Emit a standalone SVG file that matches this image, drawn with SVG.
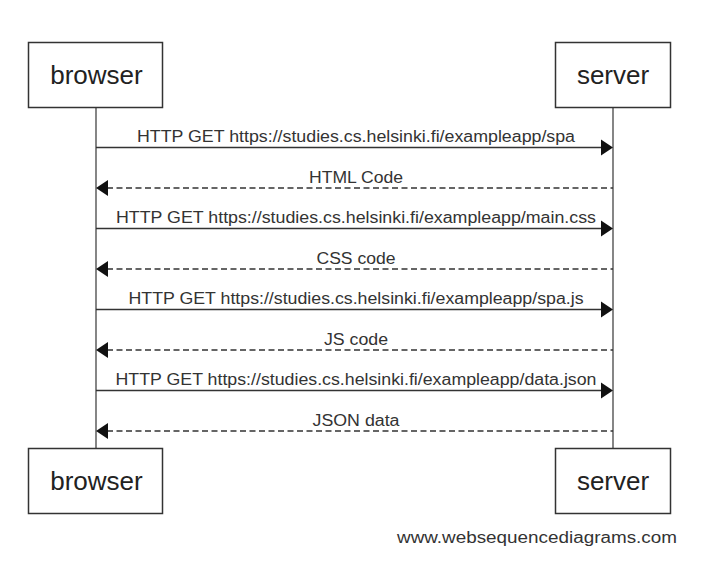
<svg xmlns="http://www.w3.org/2000/svg" width="708" height="586" viewBox="0 0 708 586">
<style>
.box{fill:#fff;stroke:#333;stroke-width:1.5}
.actor{font-family:"Liberation Sans",Arial,sans-serif;font-size:26px;fill:#222;text-anchor:middle}
.life{stroke:#444;stroke-width:1.3;fill:none}
.msg{stroke:#333;stroke-width:1.3;fill:none}
.dash{stroke:#333;stroke-width:1.3;fill:none;stroke-dasharray:6 3.5}
.head{fill:#111}
.lbl{font-family:"Liberation Sans",Arial,sans-serif;font-size:16px;fill:#333;text-anchor:middle}
.foot{font-family:"Liberation Sans",Arial,sans-serif;font-size:16px;fill:#333}
</style>
<rect width="708" height="586" fill="#fff"/>
<g id="connectors">
<line class="life" x1="96" y1="107" x2="96" y2="448"/>
<line class="life" x1="613" y1="107" x2="613" y2="448"/>
<g id="m1"><line class="msg" x1="96" y1="147.5" x2="602" y2="147.5"/><polygon class="head" points="601,139.5 613,147.5 601,155.5"/><text class="lbl" x="356" y="142" textLength="438" lengthAdjust="spacingAndGlyphs">HTTP GET https://studies.cs.helsinki.fi/exampleapp/spa</text></g>
<g id="m2"><line class="dash" x1="107" y1="188" x2="613" y2="188"/><polygon class="head" points="108,180 96,188 108,196"/><text class="lbl" x="356" y="182.5" textLength="94" lengthAdjust="spacingAndGlyphs">HTML Code</text></g>
<g id="m3"><line class="msg" x1="96" y1="228.5" x2="602" y2="228.5"/><polygon class="head" points="601,220.5 613,228.5 601,236.5"/><text class="lbl" x="356" y="223" textLength="480" lengthAdjust="spacingAndGlyphs">HTTP GET https://studies.cs.helsinki.fi/exampleapp/main.css</text></g>
<g id="m4"><line class="dash" x1="107" y1="269" x2="613" y2="269"/><polygon class="head" points="108,261 96,269 108,277"/><text class="lbl" x="356" y="263.5" textLength="79" lengthAdjust="spacingAndGlyphs">CSS code</text></g>
<g id="m5"><line class="msg" x1="96" y1="309.5" x2="602" y2="309.5"/><polygon class="head" points="601,301.5 613,309.5 601,317.5"/><text class="lbl" x="356" y="304" textLength="455" lengthAdjust="spacingAndGlyphs">HTTP GET https://studies.cs.helsinki.fi/exampleapp/spa.js</text></g>
<g id="m6"><line class="dash" x1="107" y1="350" x2="613" y2="350"/><polygon class="head" points="108,342 96,350 108,358"/><text class="lbl" x="356" y="344.5" textLength="64" lengthAdjust="spacingAndGlyphs">JS code</text></g>
<g id="m7"><line class="msg" x1="96" y1="390.5" x2="602" y2="390.5"/><polygon class="head" points="601,382.5 613,390.5 601,398.5"/><text class="lbl" x="356" y="385" textLength="481" lengthAdjust="spacingAndGlyphs">HTTP GET https://studies.cs.helsinki.fi/exampleapp/data.json</text></g>
<g id="m8"><line class="dash" x1="107" y1="431" x2="613" y2="431"/><polygon class="head" points="108,423 96,431 108,439"/><text class="lbl" x="356" y="425.5" textLength="87" lengthAdjust="spacingAndGlyphs">JSON data</text></g>
</g>
<g id="browser-top"><rect class="box" x="28.5" y="42.5" width="134" height="65"/><text class="actor" x="96.5" y="84">browser</text></g>
<g id="server-top"><rect class="box" x="555.5" y="42.5" width="115" height="65"/><text class="actor" x="613" y="84">server</text></g>
<g id="browser-bottom"><rect class="box" x="28.5" y="448.5" width="134" height="65"/><text class="actor" x="96.5" y="490">browser</text></g>
<g id="server-bottom"><rect class="box" x="555.5" y="448.5" width="115" height="65"/><text class="actor" x="613" y="490">server</text></g>
<text class="foot" x="397" y="543" textLength="280" lengthAdjust="spacingAndGlyphs">www.websequencediagrams.com</text>
</svg>
